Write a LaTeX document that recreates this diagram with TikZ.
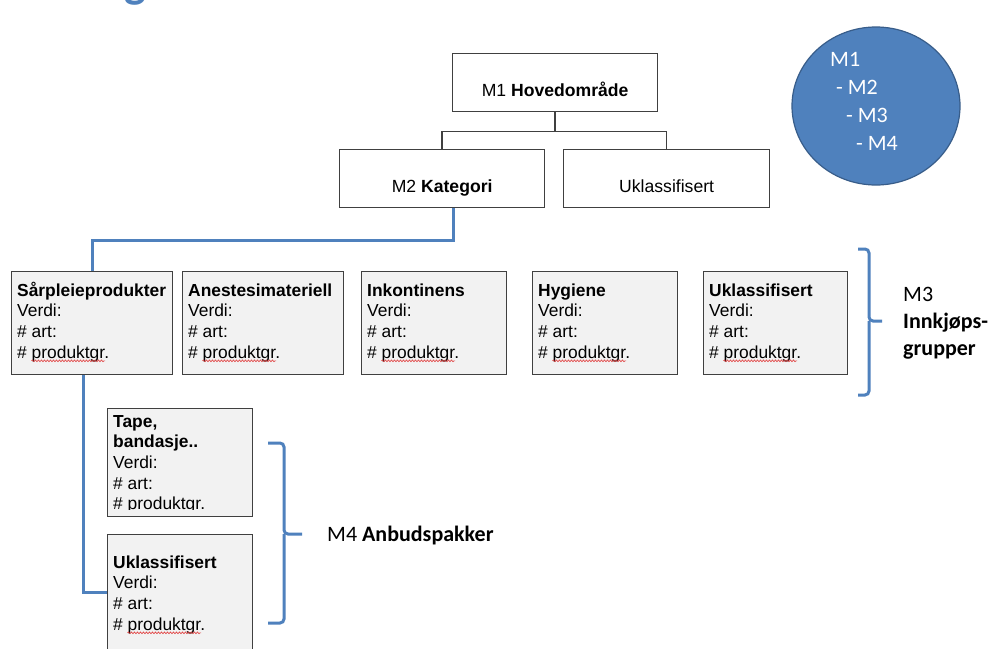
\documentclass[tikz,border=0pt]{standalone}
\usepackage{fontspec}
\setmainfont{Liberation Sans}
\newfontfamily\calibfont{Carlito}
\usetikzlibrary{decorations.pathmorphing,shapes.geometric}
\definecolor{ofblue}{HTML}{4F81BD}
\definecolor{ofbluedark}{HTML}{385D8A}
\definecolor{boxline}{HTML}{404040}
\definecolor{boxfill}{HTML}{F2F2F2}
\definecolor{squigred}{HTML}{E03838}
\newcommand{\boxfont}{\fontsize{17.4}{20.6}\selectfont}
\tikzset{
  topbox/.style={draw=boxline, line width=1.3pt, fill=white, inner xsep=0pt, inner ysep=0pt,
    text height=43pt, text depth=15pt, anchor=north west, font=\fontsize{17.6}{20}\selectfont},
  infobox/.style={draw=boxline, line width=1.3pt, fill=boxfill, inner sep=0pt, anchor=north west},
  boxtext/.style={anchor=north west, inner sep=0pt, align=left, font=\boxfont, text=black},
  squiggle/.style={draw=squigred, line width=0.6pt, decorate,
    decoration={snake, amplitude=0.9pt, segment length=3pt}},
  connector/.style={draw=boxline, line width=1.4pt},
  blueline/.style={draw=ofblue, line width=3pt},
  bracket/.style={draw=ofblue, line width=3pt, rounded corners=4pt},
  sidelabel/.style={anchor=north west, inner sep=0pt, align=left,
    font=\calibfont\fontsize{22}{27}\selectfont},
}
% name, left, top, width, height, first baseline, title, number of title lines
\newcommand{\infobox}[8]{%
  \node[infobox, minimum width=#4, minimum height=#5] (#1) at (#2,#3) {};
  \begin{scope}
    \clip (#1.north west) rectangle ([yshift=8pt]#1.south east);
    \node[boxtext] (#1-text) at ({#2+6},{#6-14.42}) {\strut #7\\Verdi:\\\# art:\\\# produktgr.};
    \draw[squiggle] ({#2+6+14.5},{#6+(#8+2)*20.6+3}) -- ++(73.5,0);
  \end{scope}
}
\begin{document}
\begin{tikzpicture}[x=1pt, y=-1pt]
\fill[white] (0,0) rectangle (993,648);
\useasboundingbox (0,0) rectangle (993,648);

% cut-off title letter
\node[anchor=base, inner sep=0pt, text=ofblue, font=\calibfont\bfseries\fontsize{46}{46}\selectfont] (titleg) at (135,-3) {g};

% top levels
\node[topbox, minimum width=205] (m1) at (452,53) {M1 \textbf{Hovedområde}};
\node[topbox, minimum width=205] (m2) at (339,149) {M2 \textbf{Kategori}};
\node[topbox, minimum width=206] (ukl) at (563,149) {Uklassifisert};
\draw[connector] (m1.south) -- ++(0,19) coordinate (split) -| (m2.north);
\draw[connector] (split) -| (ukl.north);

% M3 boxes
\infobox{sar}{11}{271}{161}{103}{296}{\textbf{Sårpleieprodukter}}{1}
\infobox{ane}{182}{271}{161}{103}{296}{\textbf{Anestesimateriell}}{1}
\infobox{ink}{361}{271}{145}{103}{296}{\textbf{Inkontinens}}{1}
\infobox{hyg}{532}{271}{145}{103}{296}{\textbf{Hygiene}}{1}
\infobox{ukm}{703}{271}{144}{103}{296}{\textbf{Uklassifisert}}{1}

% M4 boxes
\infobox{tape}{107}{408}{145}{108}{427}{\textbf{Tape,}\\\textbf{bandasje..}}{2}
\infobox{ukl2}{107}{534}{145}{116}{568}{\textbf{Uklassifisert}}{1}

% blue connectors
\draw[blueline] ([xshift=11pt]m2.south) -- ++(0,32) -| (sar.north);
\draw[blueline] ([xshift=-8.5pt]sar.south) |- (ukl2.west);

% brackets
\draw[bracket] (858,249) -| (869,321) -- (882,321);
\draw[bracket] (858,395) -| (869,321);
\draw[bracket] (268,443) -| (284,534) -- (302,534);
\draw[bracket] (268,623) -| (284,534);

% labels
\node[sidelabel] (m3label) at (903,282.1) {\strut M3\\\textbf{Innkjøps-}\\\textbf{grupper}};
\node[anchor=base west, inner sep=0pt, font=\calibfont\fontsize{22}{27}\selectfont] (m4label) at (327,541) {M4 \textbf{Anbudspakker}};

% legend circle
\node[ellipse, draw=ofbluedark, fill=ofblue, line width=1.2pt, minimum width=168, minimum height=158, inner sep=0pt] (legend) at (876,106) {};
\node[anchor=north west, inner sep=0pt, align=left, text=white, font=\calibfont\fontsize{22}{28}\selectfont] (legendtext) at (830,46.4)
  {\strut M1\\\hspace*{6pt}- M2\\\hspace*{16pt}- M3\\\hspace*{26pt}- M4};
\end{tikzpicture}
\end{document}
